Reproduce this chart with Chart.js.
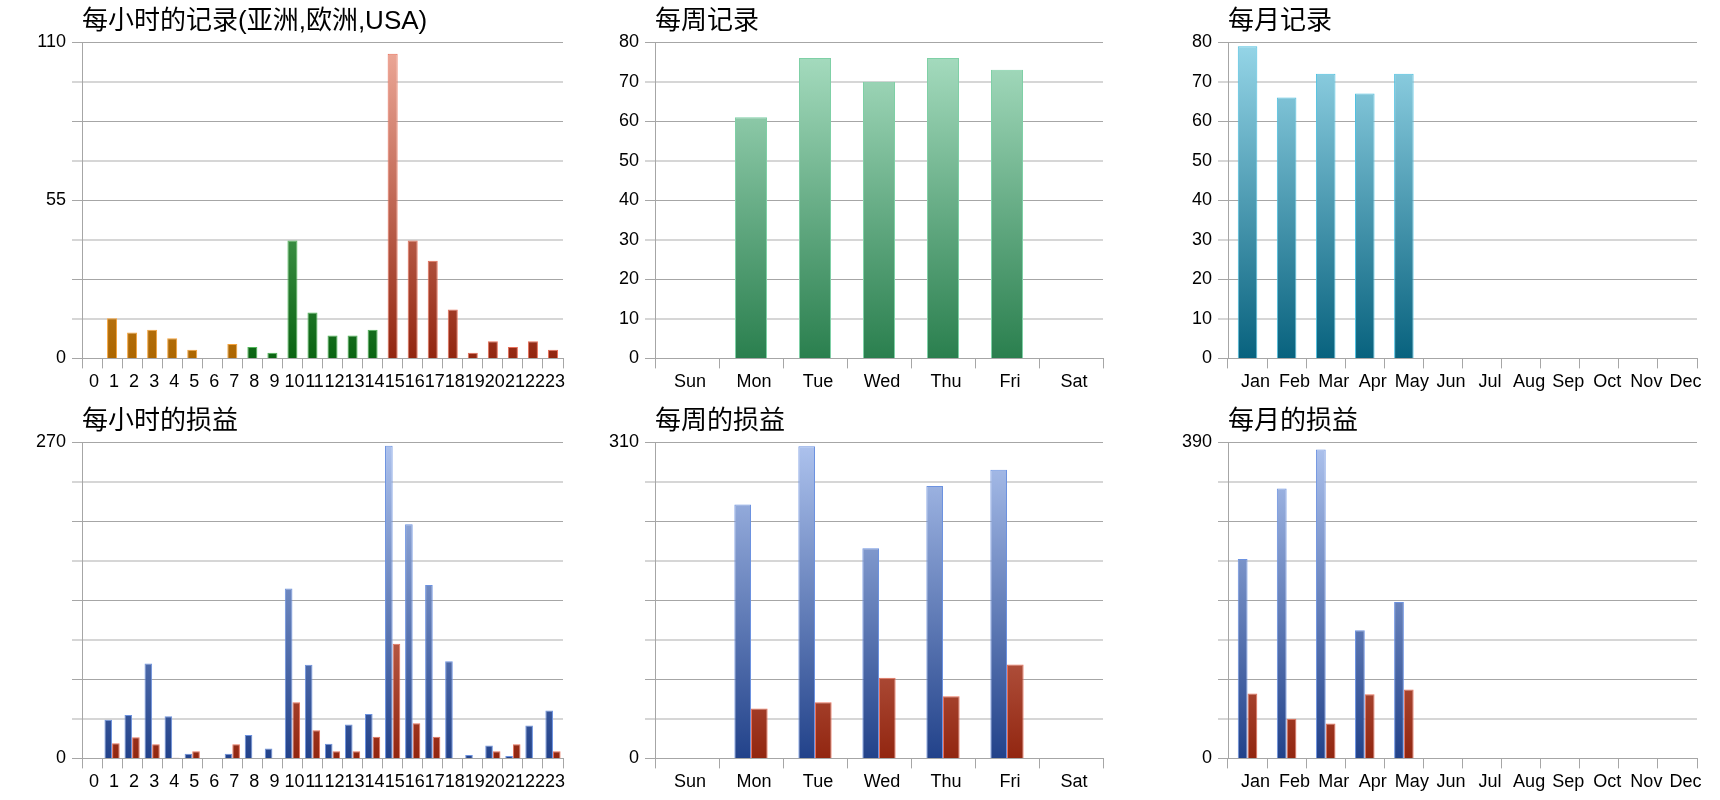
<!DOCTYPE html>
<html>
<head>
<meta charset="utf-8">
<title>记录与损益</title>
<script src="https://cdn.jsdelivr.net/npm/chart.js@4.4.1/dist/chart.umd.min.js"></script>
<style>
    body { margin: 0; background: #fff; width: 1720px; height: 800px; position: relative; overflow: hidden; }
    canvas { position: absolute; }
</style>
</head>
<body>
<canvas id="hourRecords" width="571" height="396" style="left:0;top:0"></canvas>
<canvas id="weekRecords" width="536" height="396" style="left:575px;top:0"></canvas>
<canvas id="monthRecords" width="565" height="396" style="left:1140px;top:0"></canvas>
<canvas id="hourProfit" width="571" height="396" style="left:0;top:400px"></canvas>
<canvas id="weekProfit" width="536" height="396" style="left:575px;top:400px"></canvas>
<canvas id="monthProfit" width="565" height="396" style="left:1140px;top:400px"></canvas>
<script>
// categories
const hours = ["0", "1", "2", "3", "4", "5", "6", "7", "8", "9", "10", "11",
    "12", "13", "14", "15", "16", "17", "18", "19", "20", "21", "22", "23"];
const weekdays = ["Sun", "Mon", "Tue", "Wed", "Thu", "Fri", "Sat"];
const months = ["Jan", "Feb", "Mar", "Apr", "May", "Jun", "Jul", "Aug", "Sep", "Oct", "Nov", "Dec"];

// records (hours 0-7 Asia, 8-14 Europe, 15-23 USA)
const hourRecords = [0, 14, 9, 10, 7, 3, 0, 5, 4, 2, 41, 16, 8, 8, 10, 106, 41, 34, 17, 2, 6, 4, 6, 3];
const weekRecords = [0, 61, 76, 70, 76, 73, 0];
const monthRecords = [79, 66, 72, 67, 72, 0, 0, 0, 0, 0, 0, 0];

// profit / loss
const hourProfit = [0, 33, 37, 81, 36, 4, 0, 4, 20, 8.5, 145, 80, 12.5, 29, 38, 267, 200, 148, 83, 3, 11, 2, 28, 41];
const hourLoss = [0, 13, 18, 12, 0.5, 6, 0, 12, 0, 0, 48, 24, 6, 6, 18.5, 98, 30, 18.5, 0, 0, 6, 12, 0, 6];
const weekProfit = [0, 249, 306, 206, 267, 283, 0];
const weekLoss = [0, 49, 55, 79, 61, 92, 0];
const monthProfit = [246, 333, 381, 158, 193, 0, 0, 0, 0, 0, 0, 0];
const monthLoss = [80, 49, 43, 79, 85, 0, 0, 0, 0, 0, 0, 0];

// axis ranges and shown tick labels
const hourRecordTicks = [0, 55, 110];
const weekRecordTicks = [0, 10, 20, 30, 40, 50, 60, 70, 80];
const monthRecordTicks = [0, 10, 20, 30, 40, 50, 60, 70, 80];
const hourProfitTicks = [0, 270];
const weekProfitTicks = [0, 310];
const monthProfitTicks = [0, 390];

const asiaLast = 7, europeLast = 14;

const darkGrid = "#a6a6a6",
    lightGrid = "#d6d6d6",
    tickFont = { family: '"Liberation Sans", Arial, sans-serif', size: 18 },
    titleFont = { family: '"Liberation Sans", "Noto Sans CJK SC", sans-serif', size: 26, weight: "normal" };

const shades = {
    orange: ["#f0b060", "#ac6600", "#f5a23a"],
    green: ["#88d090", "#0a6412", "#50b858"],
    red: ["#eeaa9a", "#922610", "#e8705a"],
    mint: ["#aadfc3", "#2a7f4e", "#7fd0a6"],
    teal: ["#96d6e8", "#08627e", "#4ec0e0"],
    blue: ["#aec3ee", "#22428a", "#6c92e0"],
};

Chart.defaults.animation = false;
Chart.defaults.devicePixelRatio = 1;
Chart.defaults.plugins.legend.display = false;
Chart.defaults.plugins.tooltip.enabled = false;

function fade(chart, name) {
    const area = chart.chartArea;
    if (!area) return shades[name][1];
    const g = chart.ctx.createLinearGradient(0, area.top, 0, area.bottom);
    g.addColorStop(0, shades[name][0]);
    g.addColorStop(1, shades[name][1]);
    return g;
}

function region(i) {
    return i <= asiaLast ? "orange" : i <= europeLast ? "green" : "red";
}

function yAxis(ticks, width) {
    const max = ticks[ticks.length - 1];
    return {
        min: 0,
        max: max,
        afterFit: s => { s.width = width; },
        border: { color: darkGrid },
        grid: {
            color: c => c.index % 2 ? lightGrid : darkGrid,
            lineWidth: c => c.index % 2 ? 2 : 1,
            tickLength: 10,
        },
        ticks: {
            stepSize: max / 8,
            autoSkip: false,
            padding: 6,
            color: "#000",
            font: tickFont,
            callback: v => ticks.includes(v) ? v : "",
        },
    };
}

function xAxis(shift) {
    return {
        border: { color: darkGrid },
        grid: { drawOnChartArea: false, tickLength: 10, color: darkGrid },
        ticks: { autoSkip: false, maxRotation: 0, padding: 3, labelOffset: shift, color: "#000", font: tickFont },
    };
}

function options(title, ticks, width, shift) {
    return {
        responsive: false,
        layout: { padding: { right: 8, top: 0, bottom: 0 } },
        scales: { x: xAxis(shift), y: yAxis(ticks, width) },
        plugins: {
            title: {
                display: true,
                text: title,
                align: "start",
                fullSize: false,
                color: "#000",
                font: titleFont,
                padding: { top: 6, bottom: 5 },
            },
        },
    };
}

function single(values, name) {
    return [{
        data: values,
        barPercentage: 0.5,
        categoryPercentage: 1,
        borderWidth: 1,
        backgroundColor: c => fade(c.chart, name),
        borderColor: shades[name][2],
    }];
}

function pair(profit, loss, share) {
    return [{
        data: profit,
        barPercentage: 1,
        categoryPercentage: share,
        borderWidth: 1,
        backgroundColor: c => fade(c.chart, "blue"),
        borderColor: shades.blue[2],
    }, {
        data: loss,
        barPercentage: 1,
        categoryPercentage: share,
        borderWidth: 1,
        backgroundColor: c => fade(c.chart, "red"),
        borderColor: shades.red[2],
    }];
}

new Chart(document.getElementById("hourRecords"), {
    type: "bar",
    data: {
        labels: hours,
        datasets: [{
            data: hourRecords,
            barPercentage: 0.5,
            categoryPercentage: 1,
            borderWidth: 1,
            backgroundColor: c => fade(c.chart, region(c.dataIndex)),
            borderColor: c => shades[region(c.dataIndex)][2],
        }],
    },
    options: options("每小时的记录(亚洲,欧洲,USA)", hourRecordTicks, 82, 2),
});

new Chart(document.getElementById("weekRecords"), {
    type: "bar",
    data: { labels: weekdays, datasets: single(weekRecords, "mint") },
    options: options("每周记录", weekRecordTicks, 80, 3),
});

new Chart(document.getElementById("monthRecords"), {
    type: "bar",
    data: { labels: months, datasets: single(monthRecords, "teal") },
    options: options("每月记录", monthRecordTicks, 88, 8),
});

new Chart(document.getElementById("hourProfit"), {
    type: "bar",
    data: { labels: hours, datasets: pair(hourProfit, hourLoss, 0.76) },
    options: options("每小时的损益", hourProfitTicks, 82, 2),
});

new Chart(document.getElementById("weekProfit"), {
    type: "bar",
    data: { labels: weekdays, datasets: pair(weekProfit, weekLoss, 0.52) },
    options: options("每周的损益", weekProfitTicks, 80, 3),
});

new Chart(document.getElementById("monthProfit"), {
    type: "bar",
    data: { labels: months, datasets: pair(monthProfit, monthLoss, 0.5) },
    options: options("每月的损益", monthProfitTicks, 88, 8),
});
</script>
</body>
</html>
